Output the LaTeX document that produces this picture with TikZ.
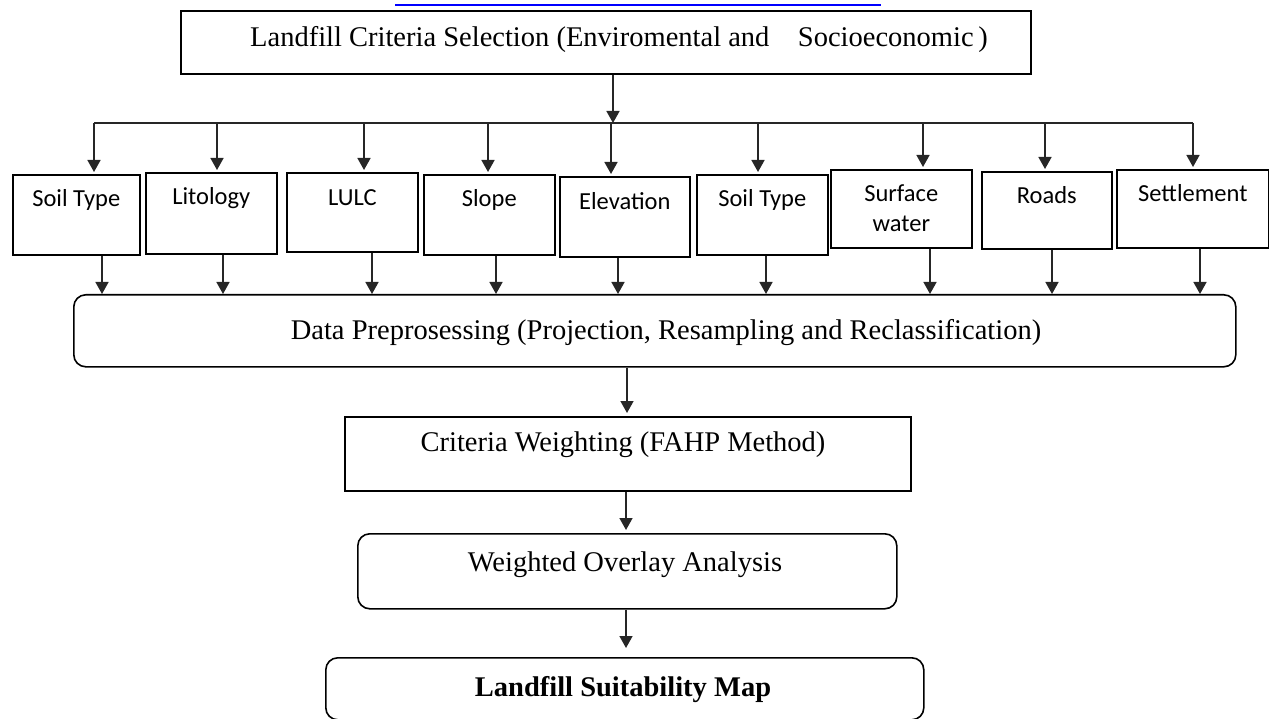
\documentclass[tikz,border=0pt]{standalone}
\usepackage{fontspec}
\setmainfont{Liberation Serif}
\newfontfamily\calfont{Carlito}
\usetikzlibrary{arrows.meta,calc}
\begin{document}
\begin{tikzpicture}[x=1pt,y=-1pt,
  boxline/.style={draw=black, line width=1.6pt},
  sbox/.style={boxline, rectangle, inner sep=0pt},
  rbox/.style={boxline, rectangle, rounded corners=12pt, inner sep=0pt},
  serif/.style={font=\fontsize{28.5}{32}\selectfont, inner sep=0pt},
  sans/.style={font=\calfont\fontsize{24.5}{30}\selectfont, align=center, inner sep=0pt},
  arr/.style={draw=black!85, line width=1.6pt, -{Triangle[width=13pt,length=12pt]}},
  busline/.style={draw=black!85, line width=1.6pt},
]
\useasboundingbox (0,0) rectangle (1269,719);

% cut-off link underline at the top
\coordinate (ul1) at (395,5);
\coordinate (ul2) at (881,5);
\draw[blue, line width=1.6pt] (ul1) -- (ul2);

% top box
\node[sbox, minimum width=850pt, minimum height=63pt, anchor=north west] (top) at (180,10) {};
\node[serif] (ttop) at (619,40) {Landfill Criteria Selection (Enviromental and\ \ \ \ Socioeconomic\,)};

\coordinate (bus) at (613,123);
\draw[arr] (top.south -| bus) -- (bus);

% criteria boxes
\node[sbox, minimum width=127pt, minimum height=80pt, anchor=north west] (b1) at (12,174) {};
\node[sbox, minimum width=131pt, minimum height=81pt, anchor=north west] (b2) at (145,172) {};
\node[sbox, minimum width=131pt, minimum height=79pt, anchor=north west] (b3) at (286,172) {};
\node[sbox, minimum width=131pt, minimum height=80pt, anchor=north west] (b4) at (423,174) {};
\node[sbox, minimum width=130pt, minimum height=80pt, anchor=north west] (b5) at (559,176) {};
\node[sbox, minimum width=131pt, minimum height=80pt, anchor=north west] (b6) at (696,174) {};
\node[sbox, minimum width=141pt, minimum height=78pt, anchor=north west] (b7) at (830,169) {};
\node[sbox, minimum width=130pt, minimum height=77pt, anchor=north west] (b8) at (981,171) {};
\node[sbox, minimum width=152pt, minimum height=78pt, anchor=north west] (b9) at (1116,169) {};

\node[sans] (t1) at ($(b1.north)+(0,26)$) {Soil Type};
\node[sans] (t2) at ($(b2.north)+(0,26)$) {Litology};
\node[sans] (t3) at ($(b3.north)+(0,26)$) {LULC};
\node[sans] (t4) at ($(b4.north)+(0,26)$) {Slope};
\node[sans] (t5) at ($(b5.north)+(0,25)$) {Elevation};
\node[sans] (t6) at ($(b6.north)+(0,26)$) {Soil Type};
\node[sans] (t7) at ($(b7.north)+(0,39)$) {Surface\\water};
\node[sans] (t8) at ($(b8.north)+(0,24)$) {Roads};
\node[sans] (t9) at ($(b9.north)+(0,24)$) {Settlement};

% data preprocessing box
\node[rbox, minimum width=1162pt, minimum height=72pt, anchor=north west] (dp) at (73,294) {};
\node[serif] (tdp) at (666,333) {Data Preprosessing (Projection, Resampling and Reclassification)};

% in / out connector positions
\foreach \b/\i/\o in {b1/94/102, b2/217/223, b3/364/372, b4/488/496, b5/611/618, b6/758/766, b7/923/930, b8/1045/1052, b9/1193/1200}{
  \coordinate (\b in) at (\i,123);
  \coordinate (\b out) at (\o,123);
  \draw[arr, shorten >=2pt] (\b in) -- (\b in |- \b.north);
  \draw[arr] (\b out |- \b.south) -- (\b out |- dp.north);
}
\draw[busline] (b1in) -- (b9in);

% lower chain
\node[sbox, minimum width=566pt, minimum height=74pt, anchor=north west] (cw) at (344,416) {};
\node[serif] (tcw) at (623,445) {Criteria Weighting (FAHP Method)};

\node[rbox, minimum width=539pt, minimum height=75pt, anchor=north west] (wo) at (357,533) {};
\node[serif] (two) at (625,565) {Weighted Overlay Analysis};

\node[rbox, minimum width=598pt, minimum height=62pt, anchor=north west] (lsm) at (325,657) {};
\node[serif, font=\fontsize{28.5}{32}\selectfont\bfseries] (tlsm) at (623,690) {Landfill Suitability Map};

\coordinate (c1) at (627,0);
\coordinate (c2) at (626,0);
\draw[arr, shorten >=3pt] (dp.south -| c1) -- (cw.north -| c1);
\draw[arr, shorten >=3pt] (cw.south -| c2) -- (wo.north -| c2);
\draw[arr, shorten >=9pt] (wo.south -| c2) -- (lsm.north -| c2);
\end{tikzpicture}
\end{document}
